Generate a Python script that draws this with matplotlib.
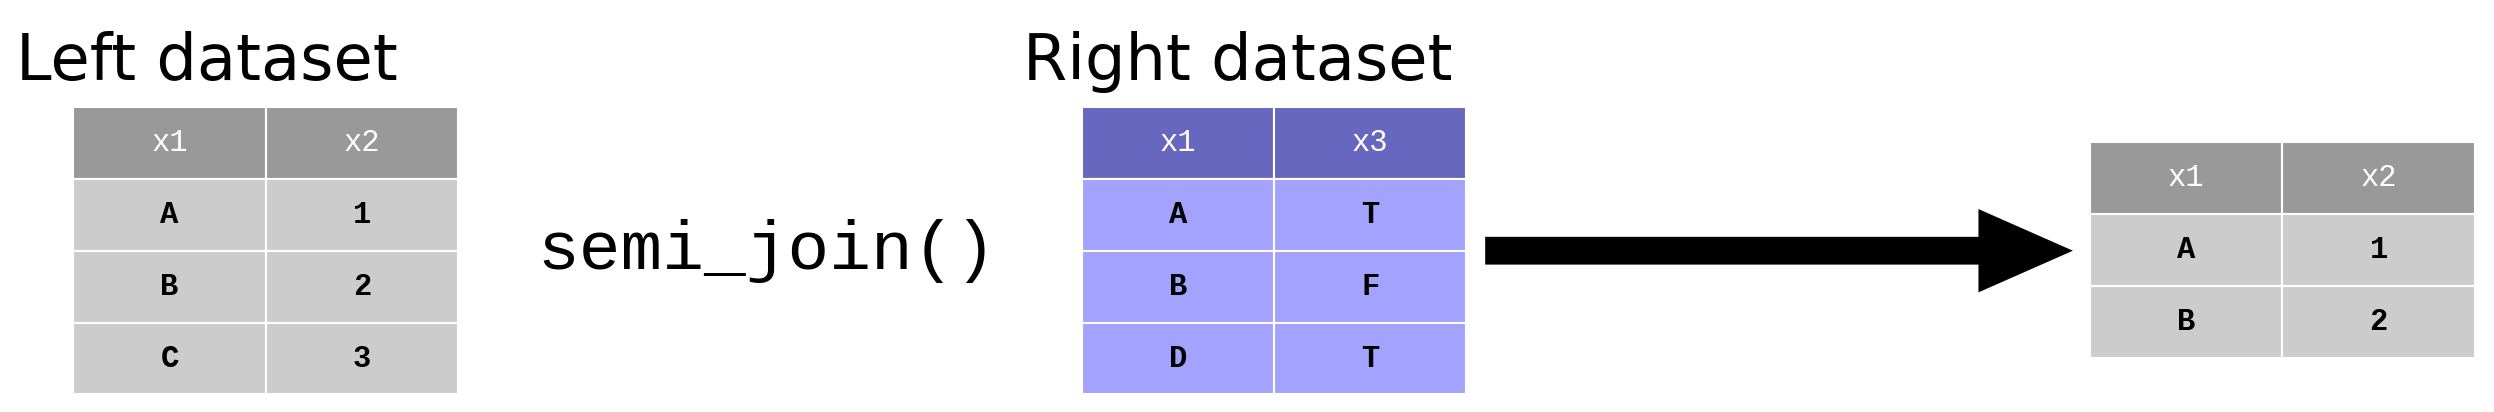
import matplotlib.pyplot as plt
from matplotlib.patches import Rectangle, FancyArrowPatch

left_cols = ['x1', 'x2']
left_rows = [['A', '1'], ['B', '2'], ['C', '3']]
right_cols = ['x1', 'x3']
right_rows = [['A', 'T'], ['B', 'F'], ['D', 'T']]
res_cols = ['x1', 'x2']
res_rows = [['A', '1'], ['B', '2']]

W, H = 1568, 258  # drawing units (reference scaled down)

fig = plt.figure(figsize=(24.94, 4.12), dpi=100)
ax = fig.add_axes([0, 0, 1, 1])
ax.set_xlim(0, W)
ax.set_ylim(H, 0)
ax.axis('off')

def table(x0, y0, cols, rows, hcol, rcol, cw=121, rh=45):
    allrows = [cols] + rows
    for i, r in enumerate(allrows):
        for j, v in enumerate(r):
            x, y = x0 + j * cw, y0 + i * rh
            ax.add_patch(Rectangle((x, y), cw, rh, facecolor=hcol if i == 0 else rcol,
                                   edgecolor='white', lw=1.5))
            ax.text(x + cw / 2, y + rh / 2, v, ha='center', va='center',
                    family='Liberation Mono', fontsize=22,
                    fontweight='normal' if i == 0 else 'bold',
                    color='white' if i == 0 else 'black')

table(46, 67, left_cols, left_rows, '#999999', '#cccccc')
table(680, 67, right_cols, right_rows, '#6767bf', '#a3a3ff')
table(1314, 89, res_cols, res_rows, '#999999', '#cccccc')

ax.text(10, 50, 'Left dataset', fontsize=46, family='DejaVu Sans', va='baseline')
ax.text(643, 50, 'Right dataset', fontsize=46, family='DejaVu Sans', va='baseline')
ax.text(482, 157, 'semi_join()', fontsize=50, family='Liberation Mono',
        ha='center', va='center')

ax.add_patch(FancyArrowPatch((932, 157), (1305, 157),
                             arrowstyle='simple,head_length=3.4,head_width=3.0,tail_width=1.0',
                             mutation_scale=20, color='black', lw=0))

fig.savefig('out.png', dpi=100)
